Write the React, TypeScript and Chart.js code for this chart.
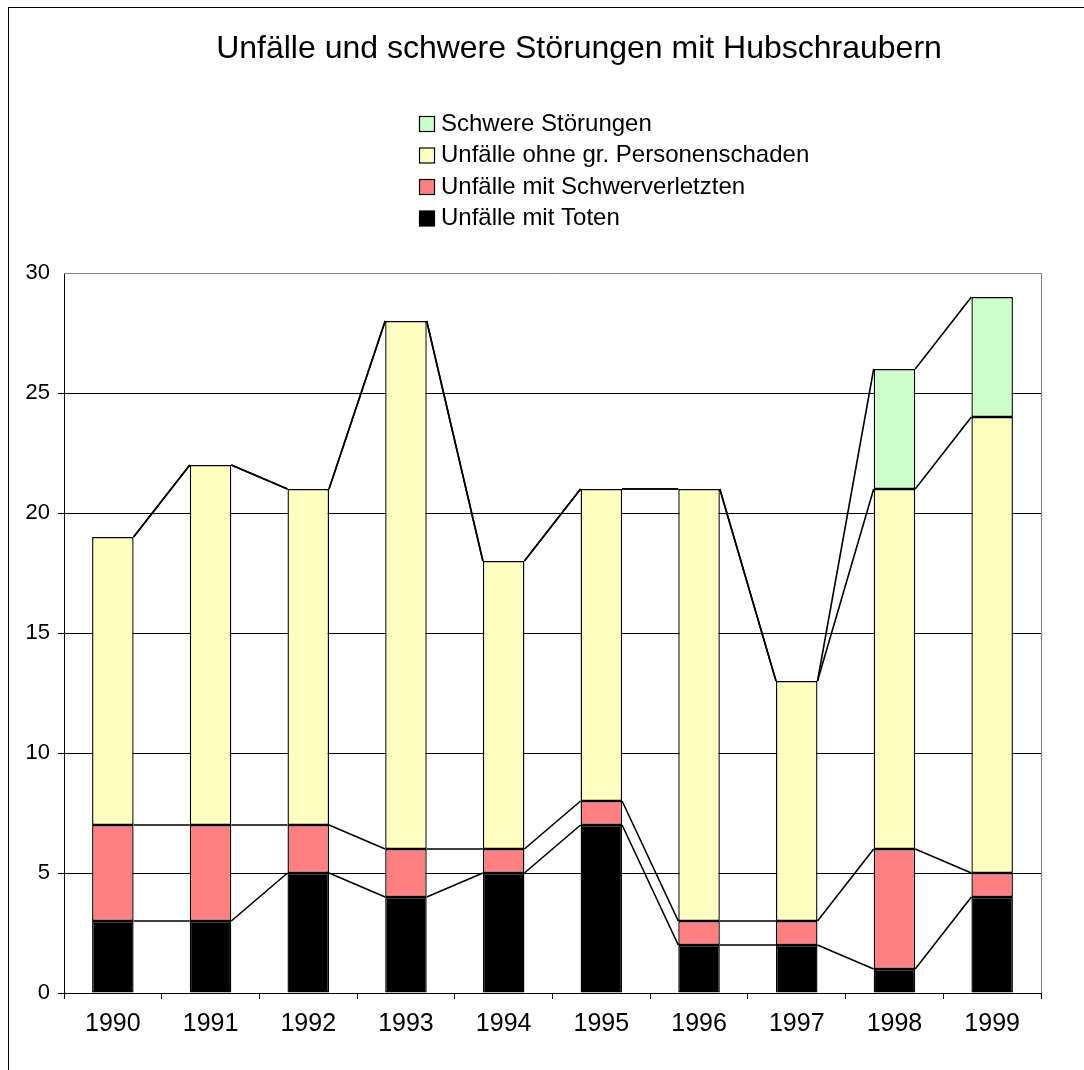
import React, { useEffect, useRef } from "react";
import { Chart, registerables } from "chart.js";

Chart.register(...registerables);

const years = ["1990", "1991", "1992", "1993", "1994", "1995", "1996", "1997", "1998", "1999"];
const toten = [3, 3, 5, 4, 5, 7, 2, 2, 1, 4];
const schwerverletzte = [4, 4, 2, 2, 1, 1, 1, 1, 5, 1];
const ohnePersonenschaden = [12, 15, 14, 22, 12, 13, 18, 10, 15, 19];
const schwereStoerungen = [0, 0, 0, 0, 0, 0, 0, 0, 5, 5];

const titleText = "Unfälle und schwere Störungen mit Hubschraubern";
const seriesNames = [
  "Unfälle mit Toten",
  "Unfälle mit Schwerverletzten",
  "Unfälle ohne gr. Personenschaden",
  "Schwere Störungen",
];
const seriesColors = ["#000000", "#FF8080", "#FFFFC0", "#CCFFCC"];

const FONT = "'Liberation Sans', Arial, sans-serif";

const decorPlugin = {
  id: "decor",
  beforeDatasetsDraw(chart: any) {
    const { ctx, chartArea } = chart;
    ctx.save();
    ctx.strokeStyle = "#808080";
    ctx.lineWidth = 1;
    ctx.beginPath();
    ctx.moveTo(chartArea.left, chartArea.top + 0.5);
    ctx.lineTo(chartArea.right + 0.5, chartArea.top + 0.5);
    ctx.lineTo(chartArea.right + 0.5, chartArea.bottom);
    ctx.stroke();
    ctx.restore();
  },
  afterDatasetsDraw(chart: any) {
    const { ctx } = chart;
    ctx.save();
    ctx.strokeStyle = "#000";
    ctx.lineWidth = 1.6;
    chart.data.datasets.forEach((_ds: any, i: number) => {
      const meta = chart.getDatasetMeta(i);
      const els = meta.data;
      ctx.beginPath();
      for (let j = 0; j < els.length - 1; j++) {
        const a = els[j];
        const b = els[j + 1];
        ctx.moveTo(a.x + a.width / 2, a.y);
        ctx.lineTo(b.x - b.width / 2, b.y);
      }
      ctx.stroke();
    });
    ctx.restore();
  },
  afterDraw(chart: any) {
    const { ctx } = chart;
    ctx.save();
    ctx.fillStyle = "#000";
    ctx.textAlign = "center";
    ctx.textBaseline = "middle";
    ctx.font = `32px ${FONT}`;
    ctx.fillText(titleText, 570, 41);

    // legend (top series first)
    const order = [3, 2, 1, 0];
    const rowY = [116, 147.5, 179, 210.5];
    ctx.font = `24px ${FONT}`;
    ctx.textAlign = "left";
    order.forEach((si, r) => {
      const y = rowY[r];
      ctx.fillStyle = seriesColors[si];
      ctx.fillRect(410.5, y - 7.5, 15, 15);
      ctx.strokeStyle = "#000";
      ctx.lineWidth = 1.2;
      ctx.strokeRect(410.5, y - 7.5, 15, 15);
      ctx.fillStyle = "#000";
      ctx.fillText(seriesNames[si], 432, y);
    });
    ctx.restore();
  },
};

export default function App() {
  const ref = useRef<HTMLCanvasElement | null>(null);
  useEffect(() => {
    if (!ref.current) return;
    const values = [toten, schwerverletzte, ohnePersonenschaden, schwereStoerungen];
    const chart = new Chart(ref.current, {
      type: "bar",
      data: {
        labels: years,
        datasets: values.map((d, i) => ({
          label: seriesNames[i],
          data: d,
          backgroundColor: seriesColors[i],
          borderColor: "#000",
          borderWidth: 1.4,
          borderSkipped: false,
          barPercentage: 0.425,
          categoryPercentage: 1,
        })),
      },
      options: {
        responsive: false,
        animation: false,
        devicePixelRatio: 1,
        layout: { padding: { top: 265, right: 43, left: 0, bottom: 0 } },
        plugins: {
          legend: { display: false },
          title: { display: false },
          tooltip: { enabled: false },
        },
        scales: {
          x: {
            stacked: true,
            offset: true,
            afterFit: (s: any) => {
              s.height = 77;
            },
            grid: {
              offset: true,
              drawOnChartArea: false,
              drawTicks: true,
              tickLength: 6,
              color: "#000",
            },
            border: { display: true, color: "#000" },
            ticks: {
              color: "#000",
              font: { family: FONT, size: 25 },
              padding: 10,
              maxRotation: 0,
            },
          },
          y: {
            stacked: true,
            min: 0,
            max: 30,
            afterFit: (s: any) => {
              s.width = 55;
            },
            grid: {
              color: (c: any) => (c.tick && c.tick.value === 30 ? "rgba(0,0,0,0)" : "#000"),
              drawTicks: true,
              tickLength: 6,
            },
            border: { display: true, color: "#000" },
            ticks: {
              stepSize: 5,
              color: "#000",
              font: { family: FONT, size: 22 },
              padding: 8,
            },
          },
        },
      },
      plugins: [decorPlugin],
    });
    return () => chart.destroy();
  }, []);

  return (
    <div
      style={{
        position: "absolute",
        top: 7,
        left: 8,
        width: 1075,
        height: 1062,
        borderLeft: "1px solid #000",
        borderTop: "1px solid #000",
        overflow: "hidden",
      }}
    >
      <canvas ref={ref} width={1075} height={1062} style={{ display: "block" }} />
    </div>
  );
}
